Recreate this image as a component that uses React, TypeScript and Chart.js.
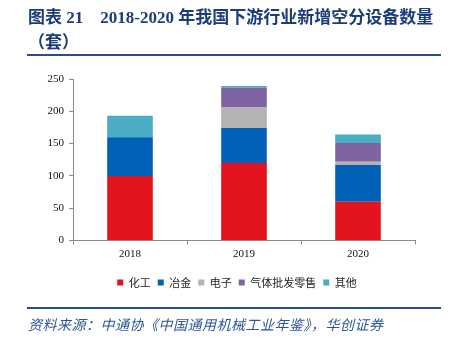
import React, { useEffect, useRef } from "react";
import { Chart, registerables } from "chart.js";

Chart.register(...registerables);

const categories = ["2018", "2019", "2020"];
const chemical = [100, 120, 60];
const metallurgy = [60, 54, 57];
const electronics = [0, 32, 5];
const gasWholesale = [0, 31, 29];
const others = [33, 2, 13];
const seriesNames = ["化工", "冶金", "电子", "气体批发零售", "其他"];
const seriesColors = ["#E3141D", "#0061B7", "#B4B4B4", "#8064A2", "#4BACC6"];

const shiftLegend = {
  id: "shiftLegend",
  afterLayout(chart: any) {
    const l = chart.legend;
    if (l) {
      l.left -= 7;
      l.right -= 7;
    }
  },
};

export default function App() {
  const ref = useRef<HTMLCanvasElement | null>(null);
  useEffect(() => {
    if (!ref.current) return;
    const values = [chemical, metallurgy, electronics, gasWholesale, others];
    const chart = new Chart(ref.current, {
      type: "bar",
      data: {
        labels: categories,
        datasets: values.map((d, i) => ({
          label: seriesNames[i],
          data: d,
          backgroundColor: seriesColors[i],
          borderWidth: 0,
          barPercentage: 0.4,
          categoryPercentage: 1,
        })),
      },
      options: {
        responsive: false,
        animation: false,
        devicePixelRatio: 1,
        layout: { padding: { left: 33, right: 35, top: 79, bottom: 50 } },
        plugins: {
          tooltip: { enabled: false },
          legend: {
            position: "bottom",
            fullSize: false,
            labels: {
              boxWidth: 6,
              boxHeight: 6,
              padding: 7,
              color: "#222",
              font: { family: "'Noto Sans CJK SC'", size: 11 },
            },
          },
        },
        scales: {
          x: {
            stacked: true,
            afterFit: (s: any) => {
              s.height = 29.5;
            },
            grid: {
              display: true,
              drawOnChartArea: false,
              drawTicks: true,
              tickLength: 4,
              color: "#8a8a8a",
              offset: true,
            },
            border: { display: true, color: "#8a8a8a", width: 1 },
            ticks: {
              color: "#111",
              padding: 3,
              font: { family: "'Liberation Serif'", size: 11 },
            },
          },
          y: {
            stacked: true,
            min: 0,
            max: 250,
            afterFit: (s: any) => {
              s.width = 40;
            },
            grid: {
              display: true,
              drawOnChartArea: false,
              drawTicks: true,
              tickLength: 4,
              color: "#8a8a8a",
            },
            border: { display: true, color: "#8a8a8a", width: 1 },
            ticks: {
              stepSize: 50,
              color: "#111",
              padding: 5,
              font: { family: "'Liberation Serif'", size: 11 },
            },
          },
        },
      },
      plugins: [shiftLegend],
    });
    return () => chart.destroy();
  }, []);

  const blue = "#1c3c7a";
  return (
    <div
      style={{
        position: "fixed",
        left: 0,
        top: 0,
        width: 450,
        height: 348,
        background: "#fff",
        overflow: "hidden",
      }}
    >
      <canvas
        ref={ref}
        width={450}
        height={348}
        style={{ position: "absolute", left: 0, top: 0, width: 450, height: 348 }}
      />
      <div
        style={{
          position: "absolute",
          left: 28,
          top: 5,
          width: 420,
          color: blue,
          fontFamily: "'Liberation Serif', 'Noto Sans CJK SC', serif",
          fontWeight: "bold",
          fontSize: 17,
          lineHeight: "25px",
          whiteSpace: "pre",
        }}
      >
        {"图表 21    2018-2020 年我国下游行业新增空分设备数量"}
        <br />
        {"（套）"}
      </div>
      <div
        style={{
          position: "absolute",
          left: 27,
          top: 54,
          width: 414,
          height: 2,
          background: "#2a4c88",
        }}
      />
      <div
        style={{
          position: "absolute",
          left: 27,
          top: 307,
          width: 414,
          height: 2,
          background: "#2a4c88",
        }}
      />
      <div
        style={{
          position: "absolute",
          left: 28,
          top: 314,
          color: "#2d5597",
          fontFamily: "'Noto Sans CJK SC', sans-serif",
          fontStyle: "italic",
          fontSize: 14,
          letterSpacing: "0.5px",
          lineHeight: "20px",
          whiteSpace: "pre",
        }}
      >
        {"资料来源：中通协《中国通用机械工业年鉴》，华创证券"}
      </div>
    </div>
  );
}
